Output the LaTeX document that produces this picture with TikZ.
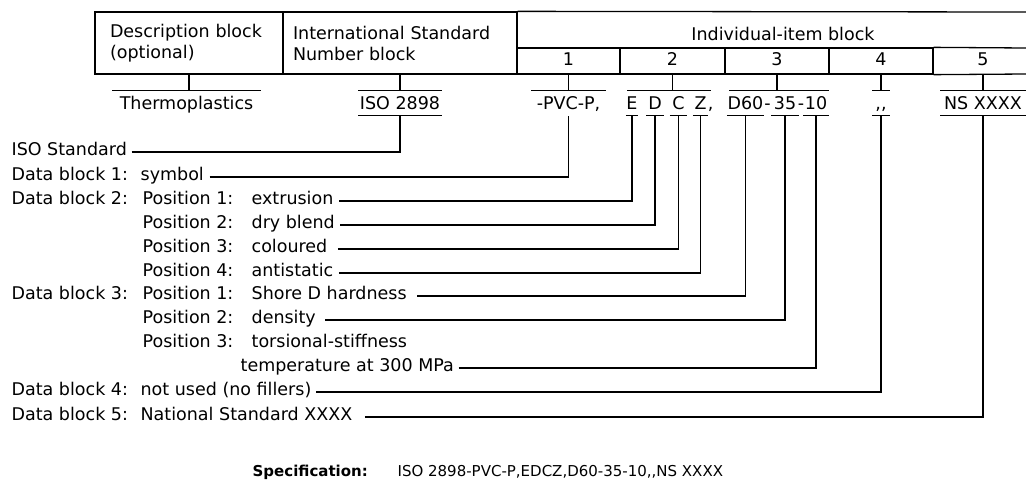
\documentclass[tikz,border=0pt]{standalone}
\usepackage{fontspec}
\setmainfont{DejaVu Sans}
\begin{document}
\begin{tikzpicture}[x=1pt,y=-1pt,
  every node/.style={font=\fontsize{17.5}{21}\selectfont, inner sep=0pt},
  line width=1.3pt,
  tbox/.style={draw, minimum height=62pt, align=left},
  cbox/.style={draw, minimum height=26pt, text height=12.6pt, text depth=4.6pt},
  lbl/.style={anchor=west, text height=10pt, text depth=3pt},
  code/.style={inner ysep=5.7pt, text height=12.6pt, text depth=0pt},
  specfont/.style={font=\fontsize{15}{18}\selectfont}
]
\useasboundingbox (0,0) rectangle (1026,482);

% ---------- top table ----------
\node[tbox, minimum width=188pt, text width=158pt, inner xsep=15pt] (desc) at (189,43) {Description block\\(optional)};
\node[tbox, minimum width=234pt, text width=214pt, inner xsep=10pt] (iso) at (400,43) {International Standard\\Number block};
\node[anchor=base] (hdr) at (783,40) {Individual-item block};
\draw (iso.north east) -- (1026,12);
\node[cbox, minimum width=103pt] (c1) at (568.5,61) {1};
\node[cbox, minimum width=105pt] (c2) at (672.5,61) {2};
\node[cbox, minimum width=104pt] (c3) at (777,61) {3};
\node[cbox, minimum width=104pt] (c4) at (881,61) {4};
\node[cbox, draw=none, minimum width=100pt] (c5) at (983,61) {5};
\draw (c4.north east) -- (1026,48);
\draw (c4.south east) -- (1026,74);

% ---------- code row ----------
\node[code, minimum width=147pt] (thermo) at (186.5,103) {Thermoplastics};
\draw (desc.south) -- (desc.south |- thermo.north);
\draw (thermo.north west) -- (thermo.north east);

\node[code, minimum width=82pt] (isoc) at (400,103) {ISO 2898};
\draw (iso.south) -- (isoc.north);
\draw (isoc.north west) -- (isoc.north east);
\draw (isoc.south west) -- (isoc.south east);

\node[code, minimum width=73pt] (pvc) at (568.5,103) {-PVC-P,};
\draw (c1.south) -- (pvc.north);
\draw (pvc.north west) -- (pvc.north east);

\node[code, minimum width=82pt] (g2) at (669,103) {};
\draw (c2.south) -- (c2.south |- g2.north);
\draw (g2.north west) -- (g2.north east);
\node[code, minimum width=11pt] (le) at (632,103) {E};
\node[code, minimum width=16pt] (ld) at (655,103) {D};
\node[code, minimum width=16pt] (lc) at (678.5,103) {C};
\node[code, minimum width=14pt] (lz) at (700.5,103) {Z};
\node[code, anchor=west] (lcomma) at ([xshift=-1pt]lz.east) {,};
\foreach \n in {le,ld,lc,lz} \draw (\n.south west) -- (\n.south east);

\node[code, minimum width=98pt] (g3) at (779,103) {};
\draw (c3.south) -- (c3.south |- g3.north);
\draw (g3.north west) -- (g3.north east);
\node[code, minimum width=35pt] (d60) at (745.5,103) {D60};
\node[code] (h1) at (767.5,103) {-};
\node[code, minimum width=26pt] (n35) at (785,103) {35};
\node[code] (h2) at (801,103) {-};
\node[code, minimum width=24pt] (n10) at (816,103) {10};
\foreach \n in {d60,n35,n10} \draw (\n.south west) -- (\n.south east);

\node[code, minimum width=16pt] (cc) at (881,103) {,{},};
\draw (c4.south) -- (cc.north);
\draw (cc.north west) -- (cc.north east);
\draw (cc.south west) -- (cc.south east);

\node[code, minimum width=84pt] (ns) at (983,103) {NS XXXX};
\draw (c5.south) -- (ns.north);
\draw (ns.north west) -- (ns.north west -| 1026,0);
\draw (ns.south west) -- (ns.south east);

% ---------- labels ----------
\node[lbl] (isostd) at (11,152) {ISO Standard};
\node[lbl] (db1) at (11,177) {Data block 1:};
\node[lbl] (sym) at (140,177) {symbol};
\node[lbl] (db2) at (11,201) {Data block 2:};
\node[lbl] (p21) at (142,201) {Position 1:};
\node[lbl] (ext) at (251,201) {extrusion};
\node[lbl] (p22) at (142,225) {Position 2:};
\node[lbl] (dry) at (251,225) {dry blend};
\node[lbl] (p23) at (142,249) {Position 3:};
\node[lbl] (col) at (251,249) {coloured};
\node[lbl] (p24) at (142,273) {Position 4:};
\node[lbl] (anti) at (251,273) {antistatic};
\node[lbl] (db3) at (11,296) {Data block 3:};
\node[lbl] (p31) at (142,296) {Position 1:};
\node[lbl] (shore) at (251,296) {Shore D hardness};
\node[lbl] (p32) at (142,320) {Position 2:};
\node[lbl] (dens) at (251,320) {density};
\node[lbl] (p33) at (142,344) {Position 3:};
\node[lbl] (tors) at (251,344) {torsional-stiffness};
\node[lbl] (temp) at (240,368) {temperature at 300 MPa};
\node[lbl] (db4) at (11,392) {Data block 4:};
\node[lbl] (unused) at (140,392) {not used (no fillers)};
\node[lbl] (db5) at (11,417) {Data block 5:};
\node[lbl] (nat) at (140,417) {National Standard XXXX};

% ---------- connectors ----------
\draw ([xshift=4pt]isostd.east) -| (isoc.south);
\draw ([xshift=5pt]sym.east) -| (pvc.south);
\draw ([xshift=5pt]ext.east) -| (le.south);
\draw ([xshift=5pt]dry.east) -| (ld.south);
\draw ([xshift=10pt]col.east) -| (lc.south);
\draw ([xshift=5pt]anti.east) -| (lz.south);
\draw ([xshift=10pt]shore.east) -| (d60.south);
\draw ([xshift=9pt]dens.east) -| (n35.south);
\draw ([xshift=4pt]temp.east) -| (n10.south);
\draw ([xshift=4pt]unused.east) -| (cc.south);
\draw ([xshift=12pt]nat.east) -| (ns.south);

% ---------- specification ----------
\node[specfont, font=\fontsize{15}{18}\selectfont\bfseries, anchor=base west] (spec) at (252,476.5) {Specification:};
\node[specfont, anchor=base west] (specval) at (397,476.5) {ISO 2898-PVC-P,EDCZ,D60-35-10,{},NS XXXX};
\end{tikzpicture}
\end{document}
